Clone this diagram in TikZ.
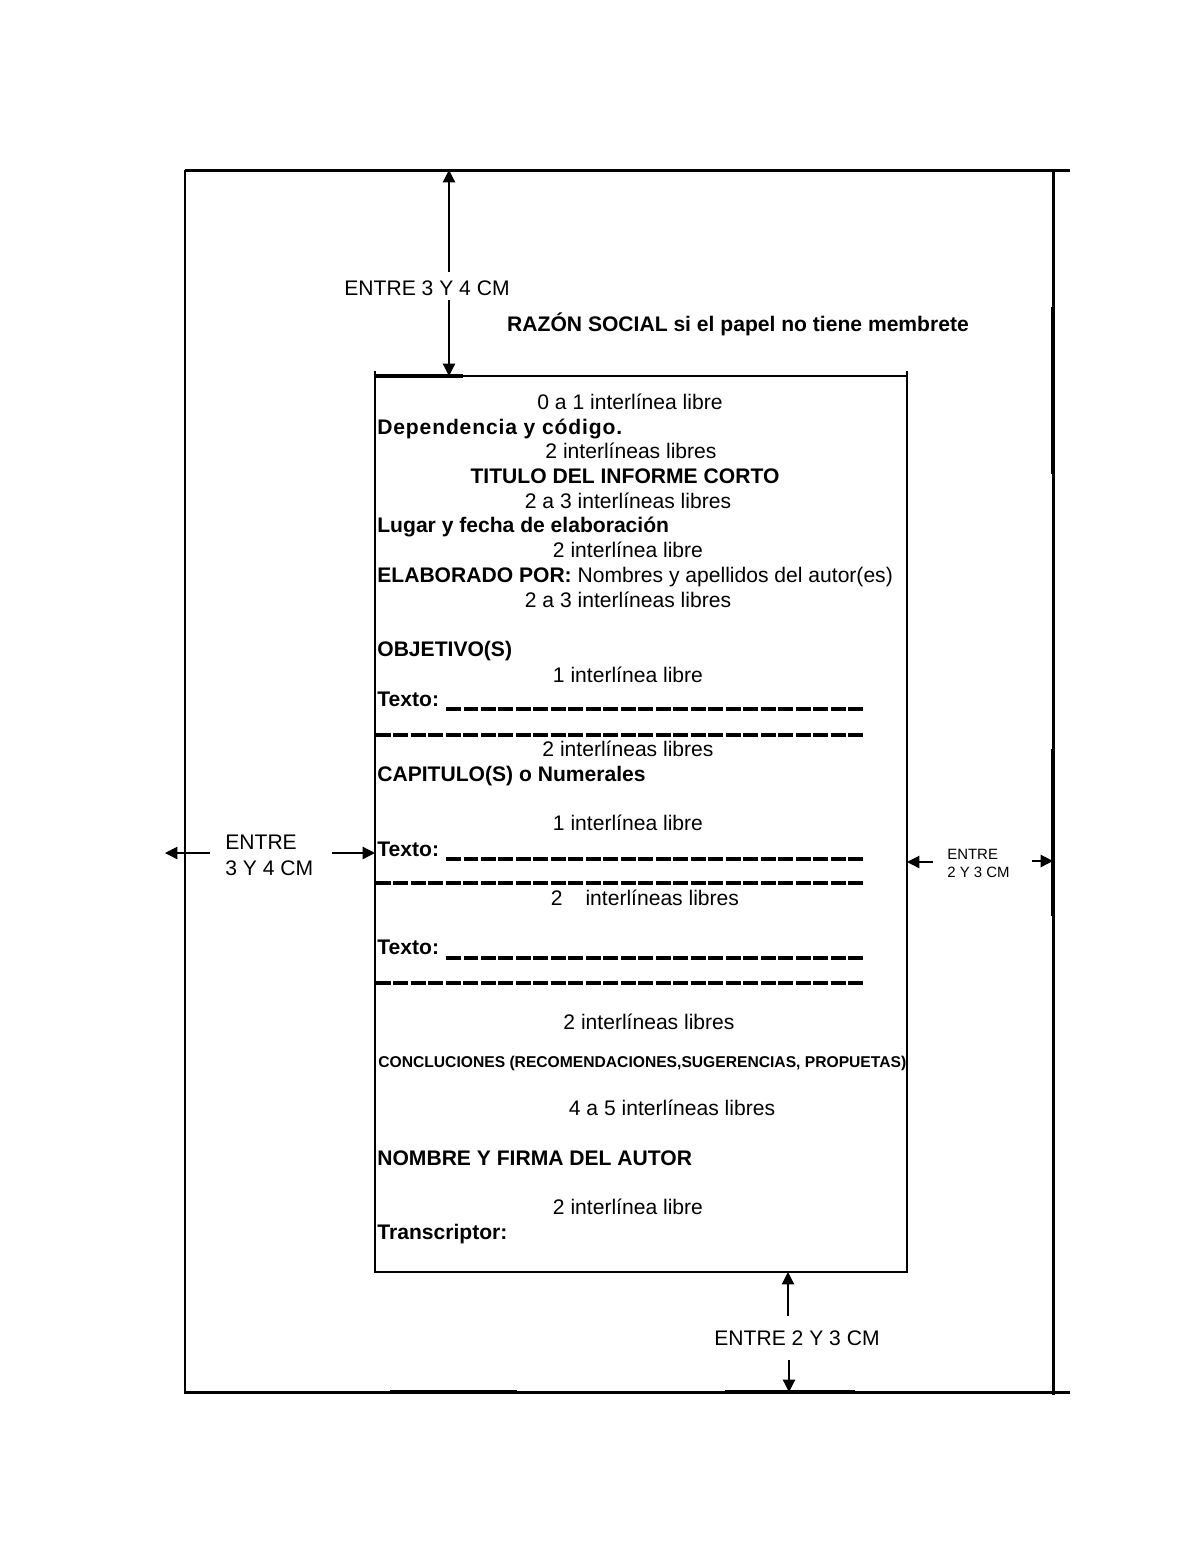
\documentclass[tikz,border=0pt]{standalone}
\usepackage{fontspec}
\setmainfont{Liberation Sans}
\usetikzlibrary{arrows.meta,positioning}

\begin{document}
\begin{tikzpicture}[x=0.02cm,y=-0.02cm,>={Triangle[length=7pt,width=7pt]},
  every node/.style={font=\fontsize{12}{14}\selectfont,inner sep=0pt},
  libre/.style={anchor=base},
  negrita/.style={anchor=base west,font=\fontsize{12}{14}\selectfont\bfseries},
  marco/.style={line width=1.7pt},
  grueso/.style={line width=2.8pt},
  caja/.style={line width=1.4pt},
  flecha/.style={line width=0.7pt,->},
  raya/.style={line width=1.8pt,dash pattern=on 0.3cm off 0.05cm}]
  \useasboundingbox (0,0) rectangle (1200,1553);

  % hoja
  \coordinate (h1) at (185,170);
  \coordinate (h2) at (1053,170);
  \coordinate (h3) at (1053,1392);
  \coordinate (h4) at (185,1392);
  \draw[marco] (h1) -- (1070,170);
  \draw[marco] (h1) -- (h4) -- (1070,1392);
  \draw[marco] (h2) -- (1053,1395);
  \draw[grueso] (1053,307) -- (1053,474);
  \draw[grueso] (1053,749) -- (1053,916);
  \draw[grueso] (390,1392) -- (517,1392);
  \draw[grueso] (725,1392) -- (855,1392);

  % margenes del texto
  \coordinate (c1) at (375,376);
  \coordinate (c2) at (907,376);
  \coordinate (c3) at (907,1272);
  \coordinate (c4) at (375,1272);
  \draw[caja] (375,371) -- (c4) -- (c3) -- (907,371);
  \draw[caja] (c1) -- (c2);
  \draw[grueso] (c1) -- (463,376);

  % cotas
  \node (sup) at (427,288) {ENTRE 3 Y 4 CM};
  \coordinate (s1) at (449,272);
  \coordinate (s2) at (449,300);
  \draw[flecha] (s1) -- (449,170);
  \draw[flecha] (s2) -- (449,376);

  \node[align=left,anchor=west,font=\fontsize{12}{14.7}\selectfont] (izq) at (225,855) {ENTRE\\3 Y 4 CM};
  \coordinate (i1) at (210,853);
  \coordinate (i2) at (332,853);
  \draw[flecha] (i1) -- (165,853);
  \draw[flecha] (i2) -- (c1 |- i2);

  \node[align=left,anchor=west,font=\fontsize{8.5}{10.2}\selectfont] (der) at (947,863) {ENTRE\\2 Y 3 CM};
  \coordinate (d1) at (933,862);
  \coordinate (d2) at (1032,861);
  \draw[flecha] (d1) -- (c2 |- d1);
  \draw[flecha] (d2) -- (h2 |- d2);

  \node (inf) at (797,1338) {ENTRE 2 Y 3 CM};
  \coordinate (b1) at (788,1316);
  \coordinate (b2) at (789,1360);
  \draw[flecha] (b1) -- (b1 |- c4);
  \draw[flecha] (b2) -- (b2 |- h4);

  \node[libre,font=\fontsize{12}{14}\selectfont\bfseries] (raz) at (738,331) {RAZÓN SOCIAL si el papel no tiene membrete};

  % contenido
  \node[libre] (l1) at (630,409) {0 a 1 interlínea libre};
  \node[negrita,font=\fontsize{12}{14}\selectfont\bfseries\addfontfeature{LetterSpace=4}] (dep) at (377,434) {Dependencia y código.};
  \node[libre] (l2) at (631,458) {2 interlíneas libres};
  \node[libre,font=\fontsize{12}{14}\selectfont\bfseries] (tit) at (625,483) {TITULO DEL INFORME CORTO};
  \node[libre] (l3) at (628,508) {2 a 3 interlíneas libres};
  \node[negrita] (lug) at (377,532) {Lugar y fecha de elaboración};
  \node[libre] (l4) at (628,557) {2 interlínea libre};
  \node[anchor=base west] (ela) at (377,582) {\bfseries ELABORADO POR: \mdseries Nombres y apellidos del autor(es)};
  \node[libre] (l5) at (628,607) {2 a 3 interlíneas libres};
  \node[negrita] (obj) at (377,656) {OBJETIVO(S)};
  \node[libre] (l6) at (628,682) {1 interlínea libre};
  \node[negrita] (tx1) at (377,706) {Texto:};
  \draw[raya] (446,709) -- (864,709);
  \draw[raya] (376,735) -- (864,735);
  \node[libre] (l7) at (628,756) {2 interlíneas libres};
  \node[negrita] (cap) at (377,781) {CAPITULO(S) o Numerales};
  \node[libre] (l8) at (628,830) {1 interlínea libre};
  \node[negrita] (tx2) at (377,856) {Texto:};
  \draw[raya] (446,859) -- (864,859);
  \draw[raya] (376,883) -- (864,883);
  \node[libre] (l9) at (645,905) {2\hspace{13pt}interlíneas libres};
  \node[negrita] (tx3) at (377,954) {Texto:};
  \draw[raya] (446,958) -- (864,958);
  \draw[raya] (376,983) -- (864,983);
  \node[libre] (l10) at (649,1029) {2 interlíneas libres};
  \node[negrita,font=\fontsize{8.9}{10}\selectfont\bfseries] (con) at (378,1067) {CONCLUCIONES (RECOMENDACIONES,SUGERENCIAS, PROPUETAS)};
  \node[libre] (l11) at (672,1115) {4 a 5 interlíneas libres};
  \node[negrita] (nom) at (377,1165) {NOMBRE Y FIRMA DEL AUTOR};
  \node[libre] (l12) at (628,1214) {2 interlínea libre};
  \node[negrita] (tra) at (377,1239) {Transcriptor:};
\end{tikzpicture}
\end{document}
